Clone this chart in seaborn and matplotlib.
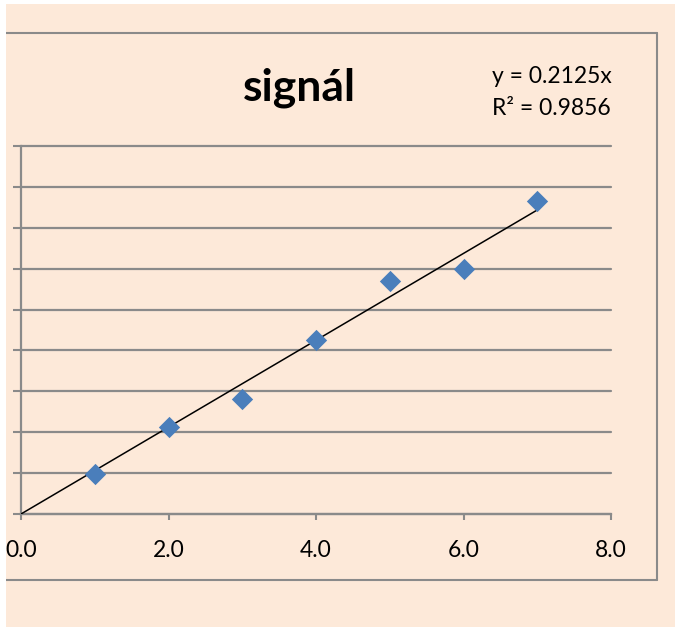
import numpy as np
import pandas as pd
import matplotlib
matplotlib.use("Agg")
import matplotlib.pyplot as plt
from matplotlib.patches import Rectangle
from matplotlib.lines import Line2D
import seaborn as sns

# ---- data ----
x_values = [1, 2, 3, 4, 5, 6, 7]
signal_values = [0.196, 0.424, 0.563, 0.850, 1.142, 1.198, 1.530]
x_ticks = [0, 2, 4, 6, 8]
x_tick_labels = ["0.0", "2.0", "4.0", "6.0", "8.0"]
y_ticks = [0.0, 0.2, 0.4, 0.6, 0.8, 1.0, 1.2, 1.4, 1.6, 1.8]
title_text = "signál"
equation_text = "y = 0.2125x"
r2_text = "R² = 0.9856"

PEACH = "#FDE9D9"
GRAY = "#8A8A8A"
BLUE = "#4A7EBB"

sns.set_style("white")
plt.rcParams["font.family"] = ["Lato", "DejaVu Sans"]

W, H = 675, 627
fig = plt.figure(figsize=(W / 100, H / 100), dpi=100)
fig.patch.set_facecolor("white")

# chart background
fig.patches.append(Rectangle((6 / W, 0), 1 - 6 / W, (H - 4) / H,
                             transform=fig.transFigure, facecolor=PEACH,
                             edgecolor="none", zorder=-1))
# chart border (top, right, bottom)
bx0, bx1 = 6 / W, 657 / W
by_top, by_bot = (H - 33) / H, (H - 580) / H
for xs, ys in [([bx0, bx1], [by_top, by_top]),
               ([bx1, bx1], [by_top, by_bot]),
               ([bx0, bx1], [by_bot, by_bot])]:
    fig.lines.append(Line2D(xs, ys, transform=fig.transFigure,
                            color=GRAY, linewidth=1.5, zorder=1))

ax = fig.add_axes([21 / W, (H - 514) / H, (611 - 21) / W, (514 - 146) / H])
ax.set_facecolor(PEACH)

df = pd.DataFrame({"x": x_values, "signal": signal_values})
xa = np.array(x_values, dtype=float)
ya = np.array(signal_values, dtype=float)
slope = (xa * ya).sum() / (xa * xa).sum()
trend = pd.DataFrame({"x": [0.0, xa.max()], "y": [0.0, slope * xa.max()]})

sns.lineplot(data=trend, x="x", y="y", ax=ax, color="black", linewidth=1.1, zorder=3)
sns.scatterplot(data=df, x="x", y="signal", ax=ax, marker="D", s=118,
                color=BLUE, linewidth=0, zorder=4)

ax.set_xlim(0, 8)
ax.set_ylim(0, 1.8)
ax.set_xticks(x_ticks)
ax.set_xticklabels(x_tick_labels)
ax.set_yticks(y_ticks)
ax.set_yticklabels([])
ax.set_xlabel("")
ax.set_ylabel("")
ax.grid(axis="y", color=GRAY, linewidth=1.6)
ax.grid(axis="x", visible=False)
for gl in ax.get_ygridlines():
    gl.set_clip_on(False)
ax.set_axisbelow(True)
for s in ["top", "right"]:
    ax.spines[s].set_visible(False)
for s in ["left", "bottom"]:
    ax.spines[s].set_color(GRAY)
    ax.spines[s].set_linewidth(1.6)
ax.tick_params(axis="x", direction="out", length=4.3, width=1.5, color=GRAY,
               pad=14.5, labelsize=16.5, labelcolor="black")
ax.tick_params(axis="y", direction="out", length=5.8, width=1.5, color=GRAY,
               left=True)
ax.tick_params(axis="x", bottom=True)

fig.text(299.5 / W, (H - 100) / H, title_text, ha="center", va="baseline",
         fontsize=32, fontweight="bold", color="black")
fig.text(492 / W, (H - 83) / H, equation_text, ha="left", va="baseline",
         fontsize=16.5, color="black")
fig.text(492 / W, (H - 115) / H, r2_text, ha="left", va="baseline",
         fontsize=16.5, color="black")

# white margin on the left edge (cropped chart)
fig.patches.append(Rectangle((0, 0), 6 / W, 1, transform=fig.transFigure,
                             facecolor="white", edgecolor="none", zorder=10))

fig.savefig("out.png", dpi=100, facecolor=fig.get_facecolor())
